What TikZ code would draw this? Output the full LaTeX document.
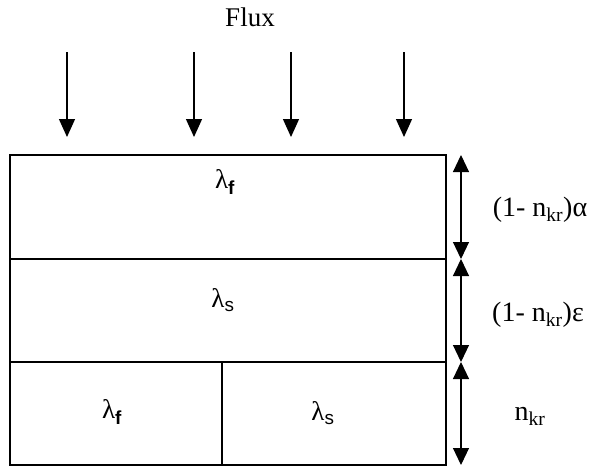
\documentclass[tikz,border=0pt]{standalone}
\usepackage{fontspec}
\setmainfont{Liberation Serif}
\setsansfont{Liberation Sans}
\usetikzlibrary{arrows.meta}

\begin{document}
\begin{tikzpicture}[x=1pt, y=-1pt,
    every node/.style={font=\fontsize{27}{30}\selectfont, inner sep=0pt},
    lyr/.style={line width=1.4pt},
    fl/.style={-{Triangle[width=16pt,length=18pt]}, line width=1.3pt},
    dm/.style={{Triangle[width=16pt,length=17pt]}-{Triangle[width=16pt,length=17pt]}, line width=1.1pt},
    lab/.style={font=\fontsize{28}{32}\selectfont}
]
\useasboundingbox (0,0) rectangle (592,469);
% layers
\draw[lyr] (10,155) rectangle (446,465);
\draw[lyr] (10,259) -- (446,259);
\draw[line width=2.4pt] (10,362) -- (446,362);
\draw[lyr] (222,362) -- (222,465);
\node (lf1) at (225,182) {λ\textsubscript{\sffamily\bfseries f}};
\node (ls1) at (223,300) {λ\textsubscript{\sffamily s}};
\node (lf2) at (112,412) {λ\textsubscript{\sffamily\bfseries f}};
\node (ls2) at (323,413) {λ\textsubscript{\sffamily s}};
% incoming flux
\node[font=\fontsize{27}{30}\selectfont] (flux) at (250,17) {Flux};
\foreach \x [count=\i] in {67,194,291,404} {
  \coordinate (ft\i) at (\x,52);
  \coordinate (fb\i) at (\x,137);
  \draw[fl] (ft\i) -- (fb\i);
}
% thicknesses
\coordinate (d0) at (461,155);
\coordinate (d1) at (461,259);
\coordinate (d2) at (461,362);
\coordinate (d3) at (461,465);
\draw[dm] (d0) -- (d1);
\draw[dm] (d1) -- (d2);
\draw[dm] (d2) -- (d3);
\node[lab] (ta) at (540,210) {(1- n\textsubscript{kr})α};
\node[lab] (te) at (538,315) {(1- n\textsubscript{kr})ε};
\node[lab] (tn) at (530,416) {n\textsubscript{kr}};
\end{tikzpicture}
\end{document}
